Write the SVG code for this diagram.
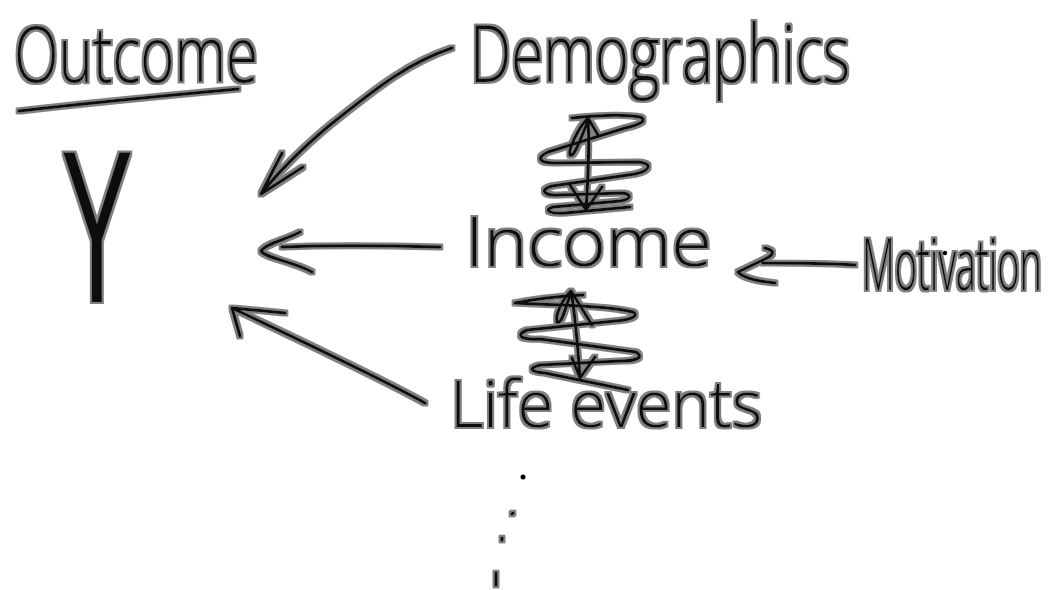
<svg xmlns="http://www.w3.org/2000/svg" width="1052" height="590" viewBox="0 0 1052 590">
<defs>
<filter id="halo" filterUnits="userSpaceOnUse" x="0" y="0" width="1052" height="590">
<feMorphology in="SourceAlpha" operator="dilate" radius="2.4" result="d"/>
<feGaussianBlur in="d" stdDeviation="0.7" result="b"/>
<feFlood flood-color="#808080" result="c"/>
<feComposite in="c" in2="b" operator="in" result="h"/>
<feMerge><feMergeNode in="h"/><feMergeNode in="SourceGraphic"/></feMerge>
</filter>
<style>
.ink{fill:none;stroke:#111;stroke-width:3;stroke-linecap:round;stroke-linejoin:round}
.lbl{font-family:"Open Sans","Liberation Sans",sans-serif;font-weight:300;fill:#111}
.ylbl{font-family:"Liberation Sans","Open Sans",sans-serif;font-weight:400;fill:#111}
.h{filter:url(#halo)}
</style>
</defs>
<rect width="1052" height="590" fill="#fff"/>

<g id="outcome" class="h">
<text class="lbl" transform="translate(14,82) scale(1,1.35)" font-size="57" textLength="244" lengthAdjust="spacingAndGlyphs">Outcome</text>
<path class="ink" d="M19,111 C80,104 150,97 238,89"/>
</g>

<g id="y" class="h">
<text class="ylbl" transform="translate(97,302) scale(2.45,4.95)" font-size="44" text-anchor="middle">Y</text>
</g>

<g id="demographics" class="h">
<text class="lbl" transform="translate(470,82) scale(1,1.4)" font-size="56" textLength="380" lengthAdjust="spacingAndGlyphs">Demographics</text>
</g>

<g id="income" class="h">
<text class="lbl" x="465" y="266" font-size="68" textLength="247" lengthAdjust="spacingAndGlyphs">Income</text>
</g>

<g id="motivation" class="h">
<text class="lbl" transform="translate(862,290) scale(1,2.0)" font-size="36" textLength="180" lengthAdjust="spacingAndGlyphs">Motivation</text>
</g>

<g id="life-events" class="h">
<text class="lbl" x="450" y="427" font-size="64" textLength="312" lengthAdjust="spacingAndGlyphs">Life events</text>
</g>

<g id="connectors" class="h">
<path class="ink" d="M452,48 C410,62 380,85 330,125 C300,150 280,170 261,194 M261,194 L282,153 M261,194 L303,167"/>
<path class="ink" d="M440,247 C400,246 330,245 282,247 M300,232 C285,240 265,244 261,251 C265,258 295,262 312,272"/>
<path class="ink" d="M425,403 C380,378 320,350 232,308 M232,308 L285,313 M232,308 L240,336"/>
<path class="ink" d="M855,265 C820,263 790,263 763,263 M765,248 Q780,252 765,259 L738,272 Q745,280 775,283"/>
<path class="ink" d="M572,118 C600,115 625,114 640,117 C648,120 640,125 625,128 L548,152 C535,158 540,163 555,163 L638,162 C652,163 652,170 635,174 L552,186 C538,190 545,196 560,195 L622,193 C632,194 632,199 620,201 L553,207 C543,210 550,214 565,213 L630,207"/>
<path class="ink" d="M588,118 C590,150 588,180 586,210 M588,118 C578,128 568,150 570,155 C574,158 580,140 588,121 M588,118 L598,135 M570,185 L586,210 L602,187"/>
<path class="ink" d="M583,295 C565,296 540,298 515,303 C560,305 610,306 633,312 C640,316 630,320 615,321 L527,330 C515,335 520,340 540,339 L636,352 C644,357 638,361 620,361 L540,365 C528,368 530,372 545,373 L628,390"/>
<path class="ink" d="M571,291 C576,320 578,350 580,378 M571,291 C562,300 555,315 557,322 C562,325 566,305 571,293 M571,291 L592,325 M572,358 L580,378 L595,357"/>
<path class="ink" d="M512,514 L513,513 M502,538 L502,540 M496,573 L496,585"/>
</g>
<circle cx="523" cy="477" r="2.5" fill="#000"/>
<circle cx="945" cy="253" r="2.2" fill="#000"/>
</svg>
